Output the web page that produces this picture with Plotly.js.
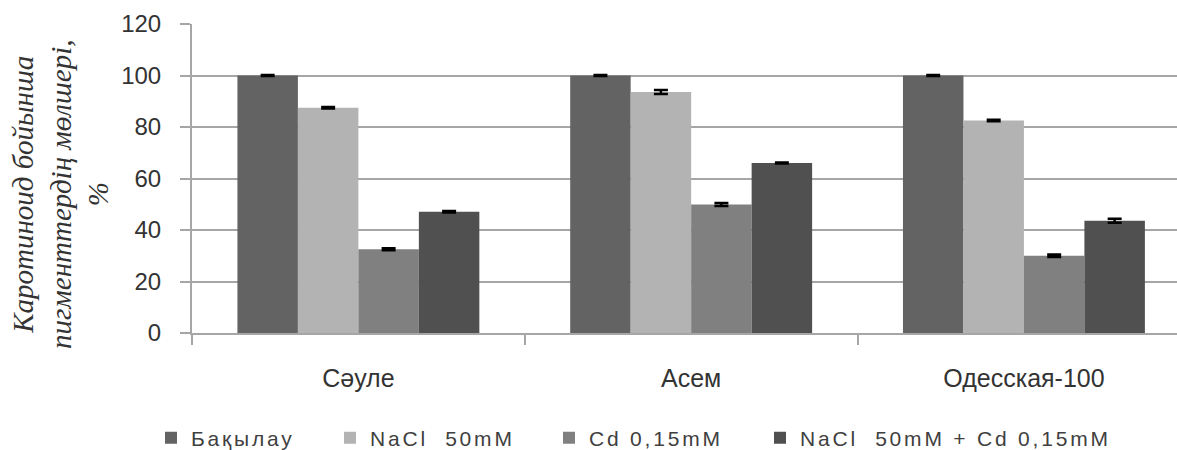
<!DOCTYPE html>
<html>
<head>
<meta charset="utf-8">
<script src="https://cdn.plot.ly/plotly-3.0.1.min.js"></script>
<style>
  html, body { margin: 0; padding: 0; background: #ffffff; }
  #chart { width: 1177px; height: 450px; }
  /* wider tracking for the legend labels */
  .legendtext, .legend2text, .legend3text, .legend4text { letter-spacing: 2.8px; }
</style>
</head>
<body>
<div id="chart"></div>
<script>
// Cultivars on the category axis
const cultivars = ['Сәуле', 'Асем', 'Одесская-100'];

// Series names
const seriesNames = ['Бақылау', 'NaCl  50mM', 'Cd 0,15mM', 'NaCl  50mM + Cd 0,15mM'];

// Carotenoid pigment content, % of control
const control      = [100, 100, 100];
const nacl         = [87.5, 93.6, 82.5];
const cadmium      = [32.5, 49.9, 30.0];
const naclCadmium  = [47.1, 66.0, 43.6];

// Standard errors
const controlErr     = [0.2, 0.2, 0.2];
const naclErr        = [0.3, 0.8, 0.3];
const cadmiumErr     = [0.4, 0.6, 0.5];
const naclCadmiumErr = [0.3, 0.2, 0.8];

// Y-axis ticks
const yTicks = [0, 20, 40, 60, 80, 100, 120];

const seriesValues = [control, nacl, cadmium, naclCadmium];
const seriesErrors = [controlErr, naclErr, cadmiumErr, naclCadmiumErr];
const seriesColors = ['#636363', '#b3b3b3', '#808080', '#505050'];
const legendIds = ['legend', 'legend2', 'legend3', 'legend4'];

// Plot-area geometry (px)
const W = 1177, H = 450;
const M = { l: 192, r: 0, t: 24, b: 117, autoexpand: false };
const plotW = W - M.l - M.r;
const plotH = H - M.t - M.b;
const px2x = p => (p - M.l) / plotW;
const px2y = p => (H - M.b - p) / plotH;

const traces = seriesNames.map((name, i) => ({
  type: 'bar',
  name: name,
  x: cultivars,
  y: seriesValues[i],
  marker: { color: seriesColors[i], line: { width: 0 } },
  error_y: {
    type: 'data',
    array: seriesErrors[i],
    visible: true,
    color: '#000000',
    thickness: 2.5,
    width: 7
  },
  legend: legendIds[i],
  showlegend: true,
  hoverinfo: 'skip'
}));

const legendFont = { family: '"Liberation Sans", Arial, sans-serif', size: 21, color: '#404040' };
// Legend entries laid out in one row under the axis
const legendPx = [151, 330, 549, 760];
const legendY = px2y(438);

const layout = {
  width: W,
  height: H,
  margin: M,
  showlegend: true,
  paper_bgcolor: '#ffffff',
  plot_bgcolor: '#ffffff',
  barmode: 'group',
  bargap: 0.273,
  bargroupgap: 0,
  font: { family: '"Liberation Sans", Arial, sans-serif', color: '#333333' },
  xaxis: {
    type: 'category',
    range: [-0.5, 2.46],
    tickson: 'boundaries',
    ticks: 'outside',
    ticklen: 10,
    tickwidth: 2,
    tickcolor: '#a6a6a6',
    showline: true,
    linecolor: '#a6a6a6',
    linewidth: 2,
    showgrid: false,
    zeroline: false,
    ticklabelstandoff: 22,
    tickfont: { size: 25, color: '#333333' },
    fixedrange: true
  },
  yaxis: {
    range: [0, 120],
    tickvals: yTicks,
    ticktext: yTicks.map(String),
    ticks: 'outside',
    ticklen: 10,
    tickwidth: 2,
    tickcolor: '#a6a6a6',
    showline: true,
    linecolor: '#a6a6a6',
    linewidth: 2,
    showgrid: true,
    gridcolor: '#a6a6a6',
    gridwidth: 2,
    zeroline: false,
    ticklabelstandoff: 14,
    tickfont: { size: 24, color: '#333333' },
    fixedrange: true
  },
  annotations: [{
    xref: 'paper', yref: 'paper',
    x: px2x(60), y: px2y(194),
    xanchor: 'center', yanchor: 'middle',
    textangle: -90,
    showarrow: false,
    text: 'Каротиноид бойынша<br>пигменттердің мөлшері,<br>%',
    font: { family: '"Liberation Serif", "Times New Roman", serif', style: 'italic', size: 29, color: '#333333' }
  }]
};

legendIds.forEach((id, i) => {
  layout[id] = {
    x: px2x(legendPx[i]),
    y: legendY,
    xanchor: 'left',
    yanchor: 'middle',
    orientation: 'h',
    entrywidth: 360,
    entrywidthmode: 'pixels',
    bgcolor: 'rgba(0,0,0,0)',
    borderwidth: 0,
    font: legendFont
  };
});

// Each legend labels its text element "<legendId>text"
const chartEl = document.getElementById('chart');
const legendTextSel = legendIds.map(id => '.' + id + 'text').join(', ');
function spaceLegendText() {
  chartEl.querySelectorAll(legendTextSel).forEach(el => {
    if (el.style.letterSpacing !== '2.8px') el.style.letterSpacing = '2.8px';
  });
}
new MutationObserver(spaceLegendText).observe(chartEl, { childList: true, subtree: true });

Plotly.newPlot(chartEl, traces, layout, { staticPlot: true, displayModeBar: false })
  .then(spaceLegendText);
</script>
</body>
</html>
